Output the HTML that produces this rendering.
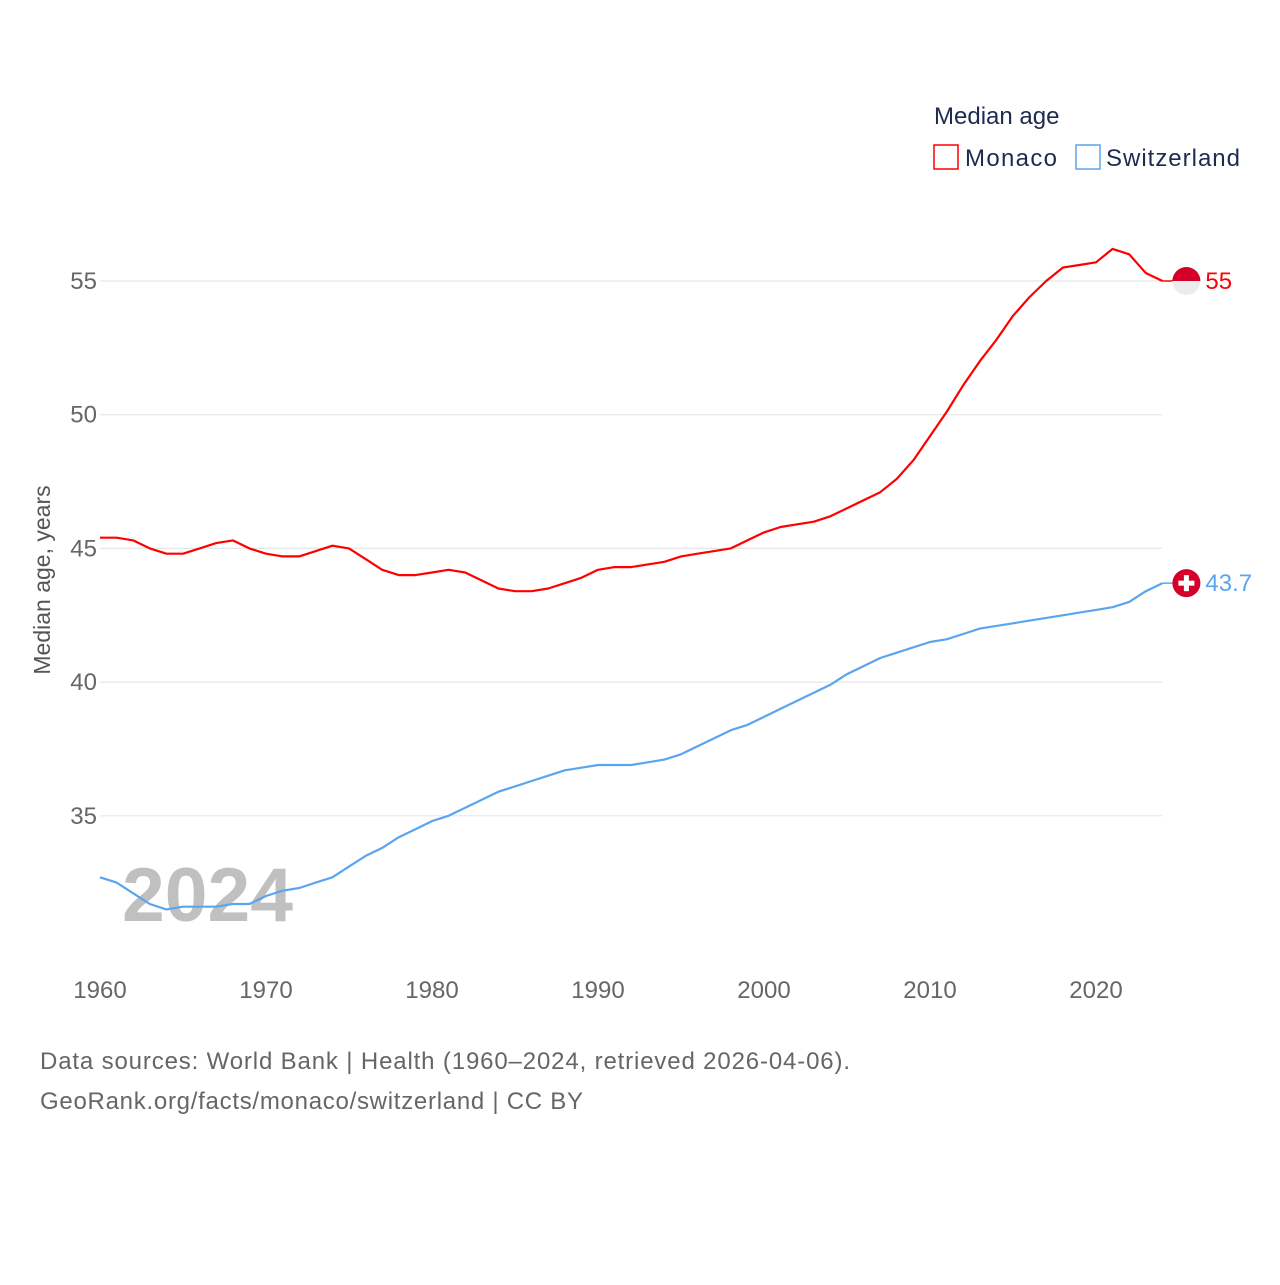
<!DOCTYPE html>
<html><head><meta charset="utf-8"><style>
body{margin:0;background:#fff;}
svg text{font-family:"Liberation Sans",sans-serif;}
</style></head><body>
<svg id="chart" width="1280" height="1280" viewBox="0 0 1280 1280" xmlns="http://www.w3.org/2000/svg">
<rect width="1280" height="1280" fill="#fff"/>
<g id="grid"></g>
<g id="axes"></g>
<text x="122" y="921" font-size="76" font-weight="bold" fill="rgba(150,150,150,0.6)" textLength="171" lengthAdjust="spacingAndGlyphs">2024</text>
<g id="lines"></g>
<text transform="translate(50,580) rotate(-90)" text-anchor="middle" font-size="23" fill="#555">Median age, years</text>
<g>
<text x="934" y="124" font-size="24" fill="#1d2b4f">Median age</text>
<g>
<rect x="934" y="145" width="24" height="24" fill="none" stroke="#ff0000" stroke-width="1.5"/>
<text x="965" y="166" font-size="24" fill="#1d2b4f" textLength="92">Monaco</text></g>
<g>
<rect x="1076" y="145" width="24" height="24" fill="none" stroke="#5ba4ee" stroke-width="1.5"/>
<text x="1106" y="166" font-size="24" fill="#1d2b4f" textLength="134">Switzerland</text></g>
</g>
<text x="40" y="1069" font-size="24" fill="#666" textLength="810">Data sources: World Bank | Health (1960–2024, retrieved 2026-04-06).</text>
<text x="40" y="1109" font-size="24" fill="#666" textLength="543">GeoRank.org/facts/monaco/switzerland | CC BY</text>
</svg>
<script>
const years = [];
for (let y = 1960; y <= 2024; y++) years.push(y);
const monaco = [45.4,45.4,45.3,45.0,44.8,44.8,45.0,45.2,45.3,45.0,44.8,44.7,44.7,44.9,45.1,45.0,44.6,44.2,44.0,44.0,44.1,44.2,44.1,43.8,43.5,43.4,43.4,43.5,43.7,43.9,44.2,44.3,44.3,44.4,44.5,44.7,44.8,44.9,45.0,45.3,45.6,45.8,45.9,46.0,46.2,46.5,46.8,47.1,47.6,48.3,49.2,50.1,51.1,52.0,52.8,53.7,54.4,55.0,55.5,55.6,55.7,56.2,56.0,55.3,55.0];
const switzerland = [32.7,32.5,32.1,31.7,31.5,31.6,31.6,31.6,31.7,31.7,32.0,32.2,32.3,32.5,32.7,33.1,33.5,33.8,34.2,34.5,34.8,35.0,35.3,35.6,35.9,36.1,36.3,36.5,36.7,36.8,36.9,36.9,36.9,37.0,37.1,37.3,37.6,37.9,38.2,38.4,38.7,39.0,39.3,39.6,39.9,40.3,40.6,40.9,41.1,41.3,41.5,41.6,41.8,42.0,42.1,42.2,42.3,42.4,42.5,42.6,42.7,42.8,43.0,43.4,43.7];
const yTicks = [35,40,45,50,55];
const xTicks = [1960,1970,1980,1990,2000,2010,2020];
const monacoLabel = "55";
const switzerlandLabel = "43.7";

const NS = "http://www.w3.org/2000/svg";
function xs(v){ return 100 + (v - 1960) * (1162.4 - 100) / 64; }
function ys(v){ return 281 + (55 - v) * 26.74; }
function mk(tag, attrs, parent){ const e=document.createElementNS(NS,tag); for(const k in attrs) e.setAttribute(k,attrs[k]); parent.appendChild(e); return e; }

const grid=document.getElementById('grid'), axes=document.getElementById('axes'), lines=document.getElementById('lines');
yTicks.forEach(t=>{
  const l=mk('line',{x1:100,x2:1162,y1:ys(t),y2:ys(t),stroke:'#e6e6e6','stroke-width':1.2},grid);
  
  
  const tx=mk('text',{x:97,y:ys(t)+8,'text-anchor':'end','font-size':24,fill:'#666'},axes);
  tx.textContent=t;
  
  
});
xTicks.forEach(t=>{
  const tx=mk('text',{x:xs(t),y:998,'text-anchor':'middle','font-size':24,fill:'#666'},axes);
  tx.textContent=t;
  
  
});
function drawSeries(vals,color,name,label){
  const d=vals.map((v,i)=>(i?'L':'M')+xs(years[i]).toFixed(1)+','+ys(v).toFixed(1)).join(' ');
  const p=mk('path',{d:d,fill:'none',stroke:color,'stroke-width':2.2,'stroke-linejoin':'round'},lines);
  
  
  const last=vals[vals.length-1], lx=xs(years[years.length-1]), ly=ys(last);
  mk('line',{x1:lx,x2:lx+12,y1:ly,y2:ly,stroke:color,'stroke-width':1.5},lines);
  const g=mk('g',{},lines);
  
  
  const cx=lx+24;
  if(name==='monaco'){
    mk('path',{d:`M${cx-14},${ly} A14,14 0 0 1 ${cx+14},${ly} Z`,fill:'#d4002a'},g);
    mk('path',{d:`M${cx-14},${ly} A14,14 0 0 0 ${cx+14},${ly} Z`,fill:'#ececec'},g);
  } else {
    mk('circle',{cx:cx,cy:ly,r:14,fill:'#d4002a'},g);
    mk('rect',{x:cx-2.5,y:ly-8,width:5,height:16,fill:'#fff'},g);
    mk('rect',{x:cx-8,y:ly-2.5,width:16,height:5,fill:'#fff'},g);
  }
  const t=mk('text',{x:cx+19,y:ly+8,'font-size':24,fill:color},lines);
  t.textContent=label;
  
  
}
drawSeries(monaco,'#ff0000','monaco',monacoLabel);
drawSeries(switzerland,'#5ba4ee','switzerland',switzerlandLabel);
</script>
</body></html>
